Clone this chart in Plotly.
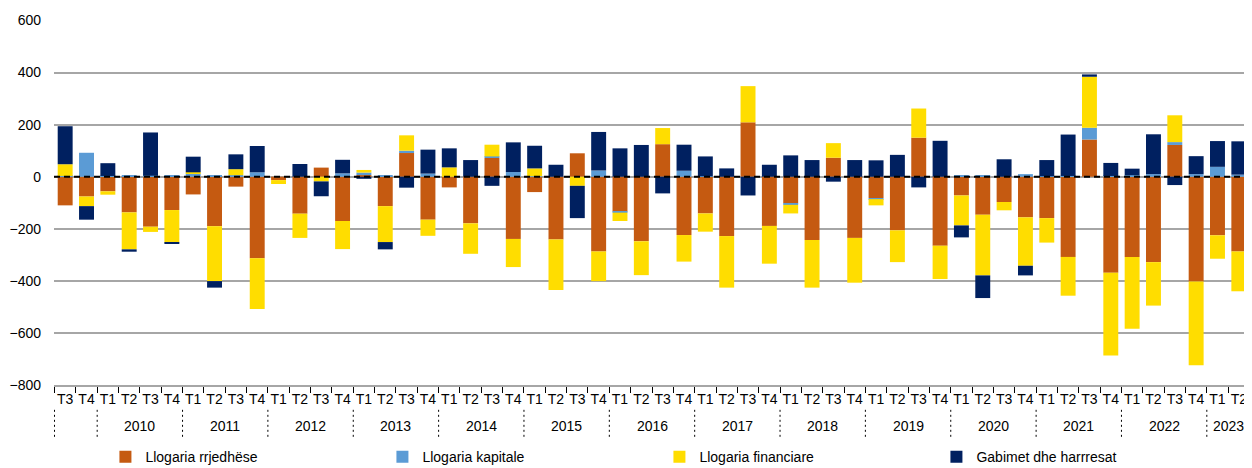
import plotly.graph_objects as go

years = ["2009", "2009"] + [str(y) for y in range(2010, 2023) for _ in range(4)] + ["2023", "2023"]
quarters = ["T3", "T4"] + ["T1", "T2", "T3", "T4"] * 13 + ["T1", "T2"]
year_labels = [""] + [str(y) for y in range(2010, 2024)]

llogaria_rrjedhese = [
    -110, -76, -56, -137, -192, -128,
    -68, -190, -38, -313,
    -13, -142, 35, -170,
    6, -113, 91, -165,
    -41, -179, 72, -239,
    -59, -241, 90, -287,
    -134, -248, 125, -224,
    -141, -228, 209, -189,
    -102, -243, 73, -235,
    -82, -206, 150, -265,
    -72, -146, -97, -156,
    -159, -308, 143, -369,
    -308, -328, 122, -402,
    -225, -287,
]
llogaria_kapitale = [
    3, 92, 3, 4, 4, 6,
    13, 5, 6, 17,
    0, 0, 0, 13,
    10, 3, 9, 12,
    0, 0, 6, 18,
    2, 0, 0, 24,
    -4, 0, 0, 23,
    2, 0, 0, 0,
    -6, 0, 0, 0,
    -4, 0, 0, 0,
    4, 3, 0, 10,
    2, 3, 45, 3,
    6, 10, 11, 10,
    38, 8,
]
llogaria_financiare = [
    45, -37, -13, -142, -20, -125,
    4, -211, 23, -195,
    -15, -93, -18, -108,
    10, -138, 59, -62,
    36, -117, 45, -108,
    30, -194, -35, -114,
    -32, -130, 62, -102,
    -70, -198, 139, -145,
    -33, -183, 56, -172,
    -24, -122, 112, -128,
    -115, -233, -32, -186,
    -94, -149, 196, -318,
    -276, -167, 103, -322,
    -90, -153,
]
gabimet = [
    146, -52, 49, -9, 166, -2,
    60, -25, 57, 101,
    0, 49, -57, 52,
    -8, -28, -42, 92,
    73, 64, -35, 114,
    87, 46, -124, 148,
    109, 122, -64, 100,
    76, 32, -72, 46,
    82, 64, -19, 64,
    63, 84, -41, 138,
    -46, -87, 67, -37,
    62, 159, 9, 50,
    25, 153, -32, 69,
    99, 128,
]

series = [
    ("Llogaria rrjedhëse", llogaria_rrjedhese, "#C55A11"),
    ("Llogaria kapitale", llogaria_kapitale, "#5B9BD5"),
    ("Llogaria financiare", llogaria_financiare, "#FFDD00"),
    ("Gabimet dhe harrresat", gabimet, "#002060"),
]

cats = [f"{y} {q}" for y, q in zip(years, quarters)]

fig = go.Figure()
for name, vals, color in series:
    fig.add_trace(go.Bar(
        x=cats, y=vals, name=name,
        marker=dict(color=color, line=dict(width=0)),
    ))

# zero dashed line
fig.add_shape(type="line", xref="paper", yref="y", x0=0, x1=1, y0=0, y1=0,
              line=dict(color="black", width=2, dash="6px,4px"), layer="above")

# year groups: dividers and labels
groups = []
for i, y in enumerate(years):
    if not groups or groups[-1][0] != y:
        groups.append([y, i, i])
    else:
        groups[-1][2] = i
for gi, (y, start, end) in enumerate(groups):
    label = year_labels[gi]
    if label:
        fig.add_annotation(x=(start + end) / 2, xref="x", y=-0.112, yref="paper",
                           text=label, showarrow=False, font=dict(size=14),
                           yanchor="middle")
    fig.add_shape(type="line", xref="x", yref="paper", x0=start - 0.5, x1=start - 0.5,
                  y0=-0.068, y1=-0.15, line=dict(color="black", width=1, dash="2px,3px"))
fig.add_shape(type="line", xref="x", yref="paper", x0=len(cats) - 0.5, x1=len(cats) - 0.5,
              y0=-0.068, y1=-0.15, line=dict(color="black", width=1, dash="2px,3px"))

fig.update_layout(
    width=1244, height=460,
    barmode="relative", bargap=0.3,
    plot_bgcolor="white", paper_bgcolor="white",
    font=dict(family="Liberation Sans, Arial, sans-serif", size=14, color="black"),
    margin=dict(l=46, r=2, t=12, b=83, autoexpand=False),
    legend=dict(orientation="h", x=0.043, xanchor="left", y=-0.198, yanchor="middle",
                entrywidth=232, entrywidthmode="pixels", font=dict(size=14),
                traceorder="normal"),
    showlegend=True,
)
fig.update_yaxes(range=[-800, 602], tickvals=[-800, -600, -400, -200, 0, 200, 400, 600],
                 showgrid=True, gridcolor="#A6A6A6",
                 gridwidth=1.5, zeroline=False, ticks="", tickfont=dict(size=14),
                 ticklabelstandoff=12)
fig.update_xaxes(type="category", categoryorder="array", categoryarray=cats,
                 tickmode="array", tickvals=cats, ticktext=quarters, tickangle=0,
                 showline=True, linecolor="#A6A6A6", linewidth=1.5,
                 ticks="outside", tickson="boundaries", tickcolor="black", ticklen=6,
                 tickfont=dict(size=14), automargin=False, ticklabelstandoff=0)

fig.write_html("out.html")
